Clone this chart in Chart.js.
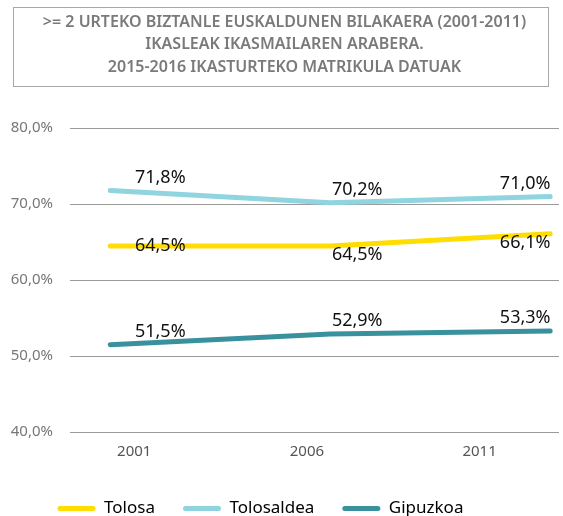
<!DOCTYPE html>
<html>
<head>
<meta charset="utf-8">
<script src="https://cdn.jsdelivr.net/npm/chart.js@4"></script>
<style>
  html, body { margin: 0; padding: 0; background: #fff; }
  #wrap { width: 563px; height: 516px; }
</style>
</head>
<body>
<div id="wrap"><canvas id="grafikoa" width="563" height="516"></canvas></div>
<script>
// datuak
const urteak = [2001, 2006, 2011];
const tolosa = [64.5, 64.5, 66.1];
const tolosaldea = [71.8, 70.2, 71.0];
const gipuzkoa = [51.5, 52.9, 53.3];
const yTicks = [40, 50, 60, 70, 80];

const letra = "'Noto Sans', 'Open Sans', sans-serif";

const ehuneko = v => v.toFixed(1).replace('.', ',') + '%';

// izenburuaren inguruko laukia
const laukia = {
    id: 'laukia',
    afterLayout(chart) {
        // legenda pixka bat ezkerrera
        chart.legend.left -= 24;
        chart.legend.right -= 24;
    },
    afterDraw(chart) {
        const ctx = chart.ctx;
        ctx.save();
        ctx.strokeStyle = '#a8a8a8';
        ctx.lineWidth = 1;
        ctx.strokeRect(13.5, 7.5, 535, 79);
        ctx.restore();
    }
};

// balioen etiketak lerroen ondoan
const etiketak = {
    id: 'etiketak',
    afterDatasetsDraw(chart) {
        const ctx = chart.ctx;
        const dx = [50, 27, -25];
        ctx.save();
        ctx.font = '18px ' + letra;
        ctx.fillStyle = '#111';
        ctx.textAlign = 'center';
        ctx.textBaseline = 'middle';
        chart.data.datasets.forEach((ds, i) => {
            const meta = chart.getDatasetMeta(i);
            meta.data.forEach((p, j) => {
                const lekua = ds.kokapena[j];
                let dy = lekua === 'gora' ? -13 : (lekua === 'behera' ? 9 : 0);
                ctx.fillText(ehuneko(ds.data[j]), p.x + dx[j], p.y + dy);
            });
        });
        ctx.restore();
    }
};

new Chart(document.getElementById('grafikoa'), {
    type: 'line',
    data: {
        labels: urteak,
        datasets: [
            {
                label: 'Tolosa', data: tolosa, borderColor: '#ffdd00',
                kokapena: ['erdi', 'behera', 'behera']
            },
            {
                label: 'Tolosaldea', data: tolosaldea, borderColor: '#8fd4df',
                kokapena: ['gora', 'gora', 'gora']
            },
            {
                label: 'Gipuzkoa', data: gipuzkoa, borderColor: '#3a919e',
                kokapena: ['gora', 'gora', 'gora']
            }
        ]
    },
    options: {
        responsive: false,
        animation: false,
        layout: { padding: { left: 10, right: 4, bottom: -11, top: 0 } },
        elements: {
            line: { borderWidth: 5, tension: 0, borderCapStyle: 'round', borderJoinStyle: 'round' },
            point: { radius: 0, hoverRadius: 0 }
        },
        scales: {
            x: {
                type: 'linear', display: false,
                min: 2000.085, max: 2011.2
            },
            urtea: {
                type: 'linear', position: 'bottom',
                min: 1999.14, max: 2013.3,
                afterBuildTicks: s => { s.ticks = urteak.map(v => ({ value: v })); },
                grid: { display: false, drawTicks: false },
                border: { display: false },
                ticks: {
                    padding: 11, color: '#555',
                    font: { size: 15, family: letra },
                    callback: v => String(v)
                }
            },
            y: {
                min: 40, max: 80,
                afterBuildTicks: s => { s.ticks = yTicks.map(v => ({ value: v })); },
                afterFit: s => { s.width = 60; },
                border: { display: false },
                grid: { color: '#9a9a9a', lineWidth: 1, drawTicks: false },
                ticks: {
                    padding: 17, color: '#777',
                    font: { size: 15, family: letra },
                    callback: v => ehuneko(v)
                }
            }
        },
        plugins: {
            title: {
                display: true,
                text: ['>= 2 URTEKO BIZTANLE EUSKALDUNEN BILAKAERA (2001-2011)',
                       'IKASLEAK IKASMAILAREN ARABERA.',
                       '2015-2016 IKASTURTEKO MATRIKULA DATUAK'],
                color: '#7a7a7a',
                font: { size: 16, weight: '600', family: letra, lineHeight: 1.4 },
                padding: { top: 11, bottom: 50 }
            },
            legend: {
                position: 'bottom',
                labels: {
                    boxWidth: 38, boxHeight: 5, padding: 28,
                    useBorderRadius: true, borderRadius: 2.5,
                    color: '#666', font: { size: 17, family: letra },
                    generateLabels: chart => chart.data.datasets.map((d, i) => ({
                        text: d.label, fillStyle: d.borderColor, strokeStyle: d.borderColor,
                        lineWidth: 0, datasetIndex: i, borderRadius: 2.5
                    }))
                }
            },
            tooltip: { enabled: false }
        }
    },
    plugins: [laukia, etiketak]
});
</script>
</body>
</html>
